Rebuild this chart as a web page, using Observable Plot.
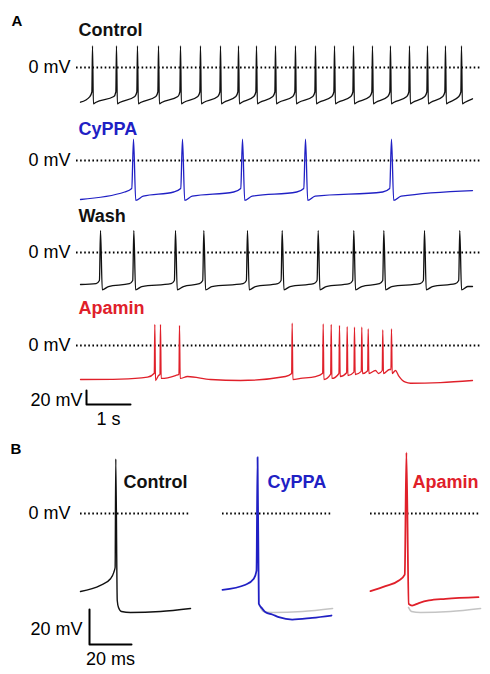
<!DOCTYPE html>
<html><head><meta charset="utf-8">
<script src="https://cdn.jsdelivr.net/npm/d3@7"></script>
<script src="https://cdn.jsdelivr.net/npm/@observablehq/plot@0.6"></script>
<style>
html,body{margin:0;padding:0;background:#fff;}
#fig{position:relative;width:490px;height:674px;overflow:hidden;background:#fff;}
</style></head><body><div id="fig"></div>
<script>
// ================= DATA =================
const conditionsA = ["Control", "CyPPA", "Wash", "Apamin"];
const conditionsB = ["Control", "CyPPA", "Apamin"];
const colors = {Control: "#111111", CyPPA: "#2020c4", Wash: "#111111", Apamin: "#e0202a", overlay: "#c4c4c4"};

// Panel A: spike times (s)
const controlSpikeTimes = [0.273,0.818,1.295,1.773,2.273,2.727,3.182,3.591,4.0,4.432,4.886,5.341,5.773,6.205,6.636,7.045,7.477,7.886,8.295,8.659];
const cyppaSpikeTimes = [1.205,2.318,3.682,5.114,7.068];
const washSpikeTimes = [0.455,1.212,2.159,2.803,3.795,4.584,5.402,6.211,6.894,7.818,8.620];

// Panel A: membrane levels (mV) [peak, AHP trough, recovery, pre-spike, knee]
const controlLevels = [31, -52, -50, -41.5, -35];
const cyppaLevels = [30.5, -57, -51, -45, -40];
const washLevels = [31.4, -53.3, -48.6, -44.5, -40];
// start / end of each trace (mV)
const controlEnds = [-49.6, -44.7];
const cyppaEnds = [-55.7, -42.9];
const washEnds = [-45.7, -48.6];
// shape timing (s) [pre, knee, trough, recovery]
const controlTiming = [0.06, 0.015, 0.02, 0.07];
const cyppaTiming = [0.2, 0.04, 0.05, 0.22];
const washTiming = [0.1, 0.025, 0.04, 0.18];

// Apamin trace: spikes (s, mV) and subthreshold path
const apaminSpikeTimes = [1.689,1.818,2.25,4.811,5.516,5.698,5.886,6.061,6.227,6.393,6.539,6.870,7.068];
const apaminSpikePeaks = [30,30,28.6,31.9,31,30,28.6,27.1,26.2,26.2,23.8,22.4,23.8];
const apaminSpikeBases = [-39.6,-41,-41,-40,-39.6,-41,-40,-39,-38,-37,-36,-35.7,-34.3];
const apaminSpikeDips = [-50,-47.1,-47.1,-48.6,-48.6,-47.1,-44.3,-42.9,-41.4,-40,-40,-40,-40];
const apaminPath = [[0,-48.6],[0.909,-48],[1.523,-45.3],[1.773,-42.9],[2.159,-42.9],[2.432,-44.3],[2.955,-48.6],[3.636,-50],[4.659,-44.3],[5.0,-47.1],[5.341,-44.3],[6.705,-35.7],[6.773,-40],[7.023,-34.3],[7.159,-35.7],[7.227,-42.9],[7.386,-52.4],[7.5,-53.9],[8.182,-52.9],[8.909,-50]];

// Panel B: single action potentials (ms, mV)
const controlAP = [[0,-44.6],[9.5,-41.1],[14.3,-37.3],[15.9,-33.5],[16.5,-30.7],[16.8,31.2],[17.5,-49.7],[18.1,-53.7],[19.5,-56],[23.8,-56.6],[38.1,-56],[52.4,-54.3]];
const cyppaAP = [[0,-43.6],[10.95,-40.7],[14.9,-37.3],[16.2,-32.6],[16.7,32.2],[17.3,-51.6],[18.9,-54.3],[20.5,-56.4],[23.7,-57.7],[26.8,-59.2],[33.2,-60.6],[42.7,-59.6],[51.9,-58.3]];
const apaminAP = [[0,-44.4],[7.1,-41.5],[13.5,-38.3],[16.3,-34.9],[17.1,34.9],[18.2,-51.6],[19.8,-52.6],[23,-51.2],[27.8,-49.7],[35.7,-48.8],[51.4,-47.8]];

// scale bars
const scaleBarA = [20, 1];   // mV, s
const scaleBarB = [20, 20];  // mV, ms
const zeroLabel = "0 mV";

// ================= BUILD =================
const FONT = "'Liberation Sans', Arial, Helvetica, sans-serif";
const fig = document.getElementById("fig");
const kA = 0.7, pxPerS = 44, tMaxA = 392 / 44;
const kB = 1.75, pxPerMs = 2.1;
const DOTS = {stroke: "#000", strokeWidth: 1.9, strokeDasharray: "1.6,2.5"};

function regularTrace(times, levels, timing, ends) {
  const [peak, trough, rec, pre, knee] = levels;
  const [preDt, kneeDt, troughDt, recDt] = timing;
  const pts = [[0, ends[0]]];
  for (const t of times) pts.push([t - preDt, pre], [t - kneeDt, knee], [t, peak], [t + troughDt, trough], [t + recDt, rec]);
  pts.push([tMaxA, ends[1]]);
  return pts;
}
function apaminTrace() {
  const pts = apaminPath.slice();
  apaminSpikeTimes.forEach((t, i) => {
    pts.push([t - 0.012, apaminSpikeBases[i]], [t, apaminSpikePeaks[i]], [t + 0.015, apaminSpikeDips[i]]);
  });
  return pts.sort((a, b) => a[0] - b[0]);
}
const tracesA = {
  Control: regularTrace(controlSpikeTimes, controlLevels, controlTiming, controlEnds),
  CyPPA: regularTrace(cyppaSpikeTimes, cyppaLevels, cyppaTiming, cyppaEnds),
  Wash: regularTrace(washSpikeTimes, washLevels, washTiming, washEnds),
  Apamin: apaminTrace()
};

function place(svg, top) {
  svg.style.position = "absolute";
  svg.style.top = top + "px";
  svg.style.left = "0px";
  fig.appendChild(svg);
}

// ---- Panel A rows ----
const rowsA = {
  Control: {top: 0, height: 110, zero: 67, titleRise: 32},
  CyPPA: {top: 110, height: 92, zero: 50, titleRise: 26},
  Wash: {top: 202, height: 93, zero: 50, titleRise: 30.5},
  Apamin: {top: 295, height: 135, zero: 50, titleRise: 32}
};
conditionsA.forEach(name => {
  const r = rowsA[name];
  const ymax = r.zero / kA, ymin = -(r.height - r.zero) / kA;
  const marks = [
    Plot.ruleY([0], {x1: -4 / pxPerS, x2: 400 / pxPerS, ...DOTS}),
    Plot.text([zeroLabel], {x: 0, y: 0, text: d => d, textAnchor: "end", dx: -10, fontSize: 18, fill: "#000"}),
    Plot.text([name], {x: 0, y: r.titleRise / kA, text: d => d, textAnchor: "start", lineAnchor: "bottom", dx: -2, fontSize: 18, fontWeight: "bold", fill: colors[name]}),
    Plot.line(tracesA[name], {x: d => d[0], y: d => d[1], stroke: colors[name], strokeWidth: 1.3, strokeLinejoin: "round", curve: "monotone-x"})
  ];
  if (name === "Control") {
    marks.push(Plot.text(["A"], {x: -69 / pxPerS, y: 42 / kA, text: d => d, textAnchor: "start", lineAnchor: "bottom", fontSize: 15, fontWeight: "bold", fill: "#000"}));
  }
  if (name === "Apamin") {
    const t0 = 6 / pxPerS, v0 = -59 / kA;
    const bar = [[t0, v0 + scaleBarA[0]], [t0, v0], [t0 + scaleBarA[1], v0]];
    marks.push(
      Plot.line(bar, {x: d => d[0], y: d => d[1], stroke: "#000", strokeWidth: 2}),
      Plot.text([scaleBarA[0] + " mV"], {x: t0, y: v0, text: d => d, textAnchor: "end", lineAnchor: "bottom", dx: -4, dy: 1, fontSize: 18, fill: "#000"}),
      Plot.text([scaleBarA[1] + " s"], {x: t0 + scaleBarA[1] / 2, y: v0, text: d => d, textAnchor: "middle", lineAnchor: "bottom", dy: 20, fontSize: 18, fill: "#000"})
    );
  }
  const svg = Plot.plot({
    width: 490, height: r.height, marginLeft: 80, marginRight: 18, marginTop: 0, marginBottom: 0,
    x: {domain: [0, tMaxA], axis: null},
    y: {domain: [ymin, ymax], axis: null},
    style: {background: "transparent", overflow: "visible", fontFamily: FONT},
    marks
  });
  place(svg, r.top);
});

// ---- Panel B ----
const tracesB = {Control: controlAP, CyPPA: cyppaAP, Apamin: apaminAP};
const panelsB = {Control: {left: 80, titleDx: 43}, CyPPA: {left: 222, titleDx: 45}, Apamin: {left: 370, titleDx: 42}};
const topB = 440, heightB = 230, zeroB = 73;
conditionsB.forEach(name => {
  const p = panelsB[name];
  const ymax = zeroB / kB, ymin = -(heightB - zeroB) / kB;
  const marks = [
    Plot.ruleY([0], {x1: 0, x2: 52.4, ...DOTS}),
    Plot.text([name], {x: 0, y: 26 / kB, text: d => d, textAnchor: "start", lineAnchor: "bottom", dx: p.titleDx, fontSize: 18, fontWeight: "bold", fill: colors[name]})
  ];
  if (name !== "Control") {
    marks.push(Plot.line(controlAP.filter(d => d[0] >= 18), {x: d => d[0], y: d => d[1], stroke: colors.overlay, strokeWidth: 1.6, curve: "monotone-x"}));
  }
  marks.push(Plot.line(tracesB[name], {x: d => d[0], y: d => d[1], stroke: colors[name], strokeWidth: name === "Control" ? 1.4 : 1.8, strokeLinejoin: "round", curve: "monotone-x"}));
  if (name === "Control") {
    const t0 = 9 / pxPerMs, v0 = -131 / kB;
    const bar = [[t0, v0 + scaleBarB[0]], [t0, v0], [t0 + scaleBarB[1], v0]];
    marks.push(
      Plot.text([zeroLabel], {x: 0, y: 0, text: d => d, textAnchor: "end", dx: -10, fontSize: 18, fill: "#000"}),
      Plot.text(["B"], {x: -70 / pxPerMs, y: 60 / kB, text: d => d, textAnchor: "start", lineAnchor: "bottom", fontSize: 15, fontWeight: "bold", fill: "#000"}),
      Plot.line(bar, {x: d => d[0], y: d => d[1], stroke: "#000", strokeWidth: 2}),
      Plot.text([scaleBarB[0] + " mV"], {x: t0, y: v0, text: d => d, textAnchor: "end", lineAnchor: "bottom", dx: -7, dy: -10, fontSize: 18, fill: "#000"}),
      Plot.text([scaleBarB[1] + " ms"], {x: t0 + scaleBarB[1] / 2, y: v0, text: d => d, textAnchor: "middle", lineAnchor: "bottom", dy: 20, fontSize: 18, fill: "#000"})
    );
  }
  const svg = Plot.plot({
    width: 490, height: heightB, marginLeft: p.left, marginRight: 490 - p.left - 105, marginTop: 0, marginBottom: 0,
    x: {domain: [0, 50], axis: null},
    y: {domain: [ymin, ymax], axis: null},
    style: {background: "transparent", overflow: "visible", fontFamily: FONT},
    marks
  });
  place(svg, topB);
});
</script></body></html>
